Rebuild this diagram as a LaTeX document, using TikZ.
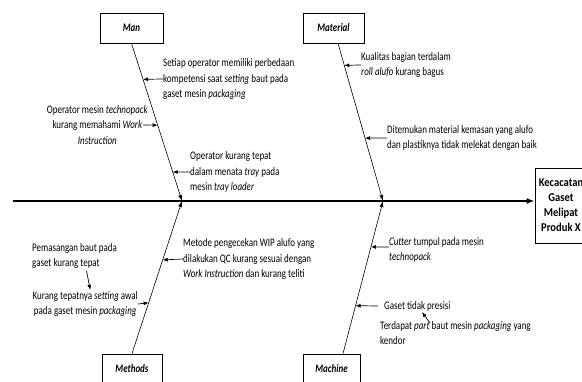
\documentclass[tikz,border=0pt]{standalone}
\usepackage{fontspec}
\setmainfont{Carlito}[FakeStretch=0.78]
\newfontfamily\efffont{Carlito}[FakeStretch=0.88]
\usetikzlibrary{arrows.meta,calc}
\begin{document}
\begin{tikzpicture}[x=1pt,y=-1pt,
  font=\fontsize{11.5}{15.8}\selectfont,
  catbox/.style={draw, line width=0.8pt, minimum height=30pt, inner sep=0pt, font=\fontsize{11.5}{15.8}\selectfont\bfseries\itshape},
  txt/.style={align=left, inner sep=0pt},
  bone/.style={line width=0.6pt, -{Latex[length=6pt,width=4pt]}},
  cause/.style={line width=0.7pt, -{Latex[length=5pt,width=4pt]}},
  spine/.style={line width=1.4pt, -{Latex[length=8pt,width=6pt]}}]
\useasboundingbox (0,0) rectangle (582,382);

% category boxes
\node[catbox, minimum width=63pt] (man) at (131.5,28) {Man};
\node[catbox, minimum width=61pt] (mat) at (333.5,28) {Material};
\node[catbox, minimum width=60pt] (met) at (132,369) {Methods};
\node[catbox, minimum width=57pt] (mac) at (331.5,369) {Machine};

% effect box
\node[draw, line width=0.8pt, minimum width=52pt, minimum height=75pt, align=center, inner sep=0pt,
      font=\efffont\fontsize{12}{15}\selectfont\bfseries] (eff) at (561,205.5) {Kecacatan\\Gaset\\Melipat\\Produk X};

% spine
\coordinate (s0) at (13,201);
\coordinate (j1) at (182,201);
\coordinate (j2) at (383,201);
\draw[spine] (s0) -- (eff.west |- s0);

% bones
\draw[bone] (man.south) -- (j1);
\draw[bone] ([xshift=4.5pt]mat.south) -- (j2);
\draw[bone] (met.north) -- (j1);
\draw[bone] ([xshift=11.5pt]mac.north) -- (j2);

% points on bones
\coordinate (m1) at ($(man.south)!0.228!(j1)$);
\coordinate (m2) at ($(man.south)!0.519!(j1)$);
\coordinate (m3) at ($(man.south)!0.816!(j1)$);
\coordinate (a1) at ($([xshift=4.5pt]mat.south)!0.139!(j2)$);
\coordinate (a2) at ($([xshift=4.5pt]mat.south)!0.601!(j2)$);
\coordinate (d1) at ($(met.north)!0.614!(j1)$);
\coordinate (d2) at ($(met.north)!0.333!(j1)$);
\coordinate (c1) at ($([xshift=11.5pt]mac.north)!0.699!(j2)$);
\coordinate (c2) at ($([xshift=11.5pt]mac.north)!0.314!(j2)$);

% Man causes
\node[txt, anchor=west] (t1) at (163,79) {Setiap operator memiliki perbedaan\\kompetensi saat \textit{setting} baut pada\\gaset mesin \textit{packaging}};
\draw[cause] (t1.west) -- (m1);
\node[txt, align=center, anchor=east] (t2) at (148,125) {Operator mesin \textit{technopack}\\kurang memahami \textit{Work}\\\textit{Instruction}};
\draw[cause] ([xshift=-5pt]t2.east) -- (m2);
\node[txt, anchor=west] (t3) at (190,172) {Operator kurang tepat\\dalam menata \textit{tray} pada\\mesin \textit{tray loader}};
\draw[cause] (t3.west) -- (m3);

% Material causes
\node[txt, anchor=west] (t4) at (361,65) {Kualitas bagian terdalam\\\textit{roll alufo} kurang bagus};
\draw[cause] (t4.west) -- (a1);
\node[txt, anchor=west] (t5) at (387,138) {Ditemukan material kemasan yang alufo\\dan plastiknya tidak melekat dengan baik};
\draw[cause] (t5.west) -- (a2);

% Methods causes
\node[txt, anchor=west] (t6) at (183,259) {Metode pengecekan WIP alufo yang\\dilakukan QC kurang sesuai dengan\\\textit{Work Instruction} dan kurang teliti};
\draw[cause] (t6.west) -- (d1);
\node[txt, anchor=north west] (t7) at (32,243) {Pemasangan baut pada\\gaset kurang tepat};
\node[txt, align=center, anchor=east] (t8) at (138,304) {Kurang tepatnya \textit{setting} awal\\pada gaset mesin \textit{packaging}};
\draw[cause] (t8.east) -- (d2);
\draw[cause] ([xshift=12pt,yshift=-2pt]t7.south) -- ([xshift=5pt,yshift=1pt]t8.north);

% Machine causes
\node[txt, anchor=west] (t9) at (389,250) {\textit{Cutter} tumpul pada mesin\\\textit{technopack}};
\draw[cause] ([yshift=3pt]t9.west) -- (c1);
\node[txt, anchor=west] (t10) at (384,306) {Gaset tidak presisi};
\draw[cause] ([xshift=-6pt]t10.west) -- (c2);
\node[txt, anchor=north west] (t11) at (380,321) {Terdapat \textit{part} baut mesin \textit{packaging} yang\\kendor};
\draw[cause] ([xshift=50pt,yshift=-2pt]t11.north west) -- ([xshift=38pt,yshift=-1pt]t10.south west);
\end{tikzpicture}
\end{document}
